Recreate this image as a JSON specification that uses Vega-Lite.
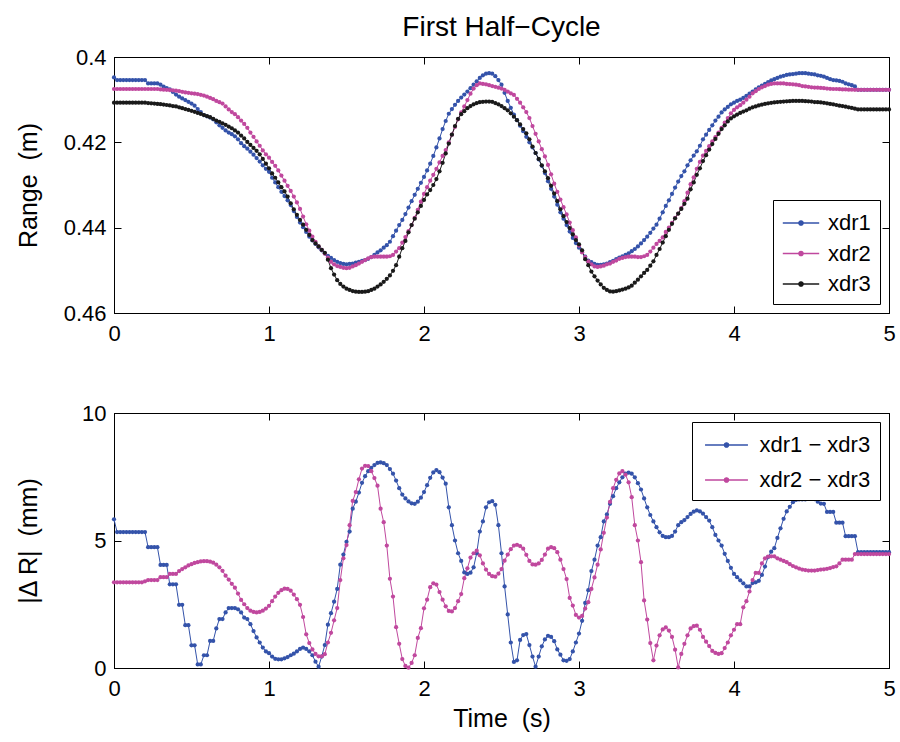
{
"$schema":"https://vega.github.io/schema/vega-lite/v6.json",
"padding":{"left":15,"top":13,"right":10,"bottom":0},
"background":"white",
"config":{
 "font":"Liberation Sans",
 "view":{"stroke":"#000","strokeWidth":1},
 "axis":{"grid":false,"domainColor":"#000","tickColor":"#000","labelColor":"#000","titleColor":"#000","labelFontSize":22,"titleFontSize":25,"titleFontWeight":"normal","tickSize":-7,"labelPadding":15,"domainWidth":1,"tickWidth":1,"labelFlush":false,"labelOverlap":false},
 "legend":{"title":null,"strokeColor":"#000","fillColor":"#fff","labelFontSize":22,"labelColor":"#000","padding":9,"cornerRadius":0,"symbolStrokeWidth":1.3,"symbolSize":676},
 "title":{"fontSize":28,"fontWeight":"normal","color":"#000","anchor":"middle"},
 "concat":{"spacing":56}
},
"datasets":{"d":[
{"t":0,"xdr1":0.4048,"xdr2":0.4075,"xdr3":0.4107,"d13":5.83,"d23":3.36},
{"t":0.02,"xdr1":0.4054,"xdr2":0.4075,"xdr3":0.4107,"d13":5.33,"d23":3.36},
{"t":0.04,"xdr1":0.4054,"xdr2":0.4075,"xdr3":0.4107,"d13":5.33,"d23":3.36},
{"t":0.06,"xdr1":0.4054,"xdr2":0.4075,"xdr3":0.4107,"d13":5.33,"d23":3.36},
{"t":0.08,"xdr1":0.4054,"xdr2":0.4075,"xdr3":0.4107,"d13":5.33,"d23":3.36},
{"t":0.1,"xdr1":0.4054,"xdr2":0.4075,"xdr3":0.4107,"d13":5.33,"d23":3.36},
{"t":0.12,"xdr1":0.4054,"xdr2":0.4075,"xdr3":0.4107,"d13":5.33,"d23":3.36},
{"t":0.14,"xdr1":0.4054,"xdr2":0.4075,"xdr3":0.4107,"d13":5.33,"d23":3.36},
{"t":0.16,"xdr1":0.4054,"xdr2":0.4075,"xdr3":0.4107,"d13":5.33,"d23":3.36},
{"t":0.18,"xdr1":0.4054,"xdr2":0.4075,"xdr3":0.4107,"d13":5.33,"d23":3.36},
{"t":0.2,"xdr1":0.4054,"xdr2":0.4075,"xdr3":0.4107,"d13":5.33,"d23":3.4},
{"t":0.22,"xdr1":0.4062,"xdr2":0.4075,"xdr3":0.4108,"d13":4.74,"d23":3.45},
{"t":0.24,"xdr1":0.4062,"xdr2":0.4075,"xdr3":0.41085,"d13":4.74,"d23":3.45},
{"t":0.26,"xdr1":0.4062,"xdr2":0.4075,"xdr3":0.4109,"d13":4.74,"d23":3.45},
{"t":0.28,"xdr1":0.4062,"xdr2":0.4075,"xdr3":0.411,"d13":4.74,"d23":3.45},
{"t":0.3,"xdr1":0.4065,"xdr2":0.4076,"xdr3":0.41105,"d13":4.04,"d23":3.56},
{"t":0.32,"xdr1":0.40695,"xdr2":0.40765,"xdr3":0.41115,"d13":4.04,"d23":3.56},
{"t":0.34,"xdr1":0.4073,"xdr2":0.4077,"xdr3":0.41125,"d13":4.04,"d23":3.56},
{"t":0.36,"xdr1":0.4076,"xdr2":0.40775,"xdr3":0.41135,"d13":3.28,"d23":3.69},
{"t":0.38,"xdr1":0.4082,"xdr2":0.4078,"xdr3":0.4115,"d13":3.28,"d23":3.69},
{"t":0.4,"xdr1":0.4088,"xdr2":0.4079,"xdr3":0.4116,"d13":3.28,"d23":3.69},
{"t":0.42,"xdr1":0.4093,"xdr2":0.408,"xdr3":0.4118,"d13":2.48,"d23":3.8},
{"t":0.44,"xdr1":0.4097,"xdr2":0.40815,"xdr3":0.412,"d13":2.48,"d23":3.88},
{"t":0.46,"xdr1":0.4101,"xdr2":0.4083,"xdr3":0.4122,"d13":1.68,"d23":3.95},
{"t":0.48,"xdr1":0.4105,"xdr2":0.4084,"xdr3":0.4124,"d13":1.68,"d23":4.02},
{"t":0.5,"xdr1":0.4109,"xdr2":0.4085,"xdr3":0.4126,"d13":0.89,"d23":4.07},
{"t":0.52,"xdr1":0.4114,"xdr2":0.4086,"xdr3":0.41285,"d13":0.89,"d23":4.12},
{"t":0.54,"xdr1":0.4122,"xdr2":0.4087,"xdr3":0.4131,"d13":0.14,"d23":4.15},
{"t":0.56,"xdr1":0.4129,"xdr2":0.40885,"xdr3":0.41335,"d13":0.14,"d23":4.18},
{"t":0.58,"xdr1":0.4136,"xdr2":0.40905,"xdr3":0.4136,"d13":0.5,"d23":4.19},
{"t":0.6,"xdr1":0.4139,"xdr2":0.4093,"xdr3":0.41385,"d13":0.5,"d23":4.19},
{"t":0.62,"xdr1":0.4142,"xdr2":0.4096,"xdr3":0.4141,"d13":1.06,"d23":4.17},
{"t":0.64,"xdr1":0.4146,"xdr2":0.4099,"xdr3":0.4145,"d13":1.06,"d23":4.13},
{"t":0.66,"xdr1":0.4153,"xdr2":0.4103,"xdr3":0.4149,"d13":1.55,"d23":4.05},
{"t":0.68,"xdr1":0.416,"xdr2":0.4106,"xdr3":0.4152,"d13":1.92,"d23":3.95},
{"t":0.7,"xdr1":0.4166,"xdr2":0.4109,"xdr3":0.41555,"d13":1.92,"d23":3.81},
{"t":0.72,"xdr1":0.4172,"xdr2":0.4116,"xdr3":0.4159,"d13":2.18,"d23":3.62},
{"t":0.74,"xdr1":0.4177,"xdr2":0.4123,"xdr3":0.4163,"d13":2.35,"d23":3.47},
{"t":0.76,"xdr1":0.4181,"xdr2":0.4129,"xdr3":0.4167,"d13":2.35,"d23":3.3},
{"t":0.78,"xdr1":0.4186,"xdr2":0.4134,"xdr3":0.4172,"d13":2.35,"d23":3.15},
{"t":0.8,"xdr1":0.4193,"xdr2":0.4141,"xdr3":0.4177,"d13":2.3,"d23":2.92},
{"t":0.82,"xdr1":0.4202,"xdr2":0.4149,"xdr3":0.4184,"d13":2.18,"d23":2.67},
{"t":0.84,"xdr1":0.4209,"xdr2":0.4157,"xdr3":0.4191,"d13":1.98,"d23":2.5},
{"t":0.86,"xdr1":0.4215,"xdr2":0.4166,"xdr3":0.4199,"d13":1.92,"d23":2.35},
{"t":0.88,"xdr1":0.4222,"xdr2":0.4177,"xdr3":0.4206,"d13":1.72,"d23":2.25},
{"t":0.9,"xdr1":0.4229,"xdr2":0.4187,"xdr3":0.4213,"d13":1.45,"d23":2.2},
{"t":0.92,"xdr1":0.4237,"xdr2":0.4198,"xdr3":0.422,"d13":1.2,"d23":2.18},
{"t":0.94,"xdr1":0.4245,"xdr2":0.4208,"xdr3":0.4228,"d13":1.0,"d23":2.2},
{"t":0.96,"xdr1":0.4254,"xdr2":0.4219,"xdr3":0.4239,"d13":0.8,"d23":2.25},
{"t":0.98,"xdr1":0.4262,"xdr2":0.4228,"xdr3":0.425,"d13":0.65,"d23":2.33},
{"t":1.0,"xdr1":0.4269,"xdr2":0.4236,"xdr3":0.4261,"d13":0.58,"d23":2.44},
{"t":1.02,"xdr1":0.4283,"xdr2":0.4246,"xdr3":0.4273,"d13":0.45,"d23":2.62},
{"t":1.04,"xdr1":0.4294,"xdr2":0.4255,"xdr3":0.4283,"d13":0.36,"d23":2.8},
{"t":1.06,"xdr1":0.4305,"xdr2":0.4266,"xdr3":0.4294,"d13":0.34,"d23":2.95},
{"t":1.08,"xdr1":0.4316,"xdr2":0.4278,"xdr3":0.4305,"d13":0.34,"d23":3.05},
{"t":1.1,"xdr1":0.4326,"xdr2":0.429,"xdr3":0.4315,"d13":0.38,"d23":3.11},
{"t":1.12,"xdr1":0.4336,"xdr2":0.4302,"xdr3":0.4327,"d13":0.43,"d23":3.1},
{"t":1.14,"xdr1":0.4347,"xdr2":0.4314,"xdr3":0.4343,"d13":0.5,"d23":3.03},
{"t":1.16,"xdr1":0.4361,"xdr2":0.4327,"xdr3":0.4357,"d13":0.56,"d23":2.88},
{"t":1.18,"xdr1":0.4375,"xdr2":0.4341,"xdr3":0.437,"d13":0.65,"d23":2.7},
{"t":1.2,"xdr1":0.4388,"xdr2":0.4356,"xdr3":0.4382,"d13":0.75,"d23":2.48},
{"t":1.22,"xdr1":0.4399,"xdr2":0.4374,"xdr3":0.4393,"d13":0.8,"d23":2.0},
{"t":1.24,"xdr1":0.441,"xdr2":0.4392,"xdr3":0.4405,"d13":0.75,"d23":1.32},
{"t":1.26,"xdr1":0.4421,"xdr2":0.4407,"xdr3":0.4417,"d13":0.65,"d23":0.98},
{"t":1.28,"xdr1":0.443,"xdr2":0.4421,"xdr3":0.4429,"d13":0.5,"d23":0.73},
{"t":1.3,"xdr1":0.4438,"xdr2":0.4433,"xdr3":0.4437,"d13":0.25,"d23":0.55},
{"t":1.32,"xdr1":0.4446,"xdr2":0.4444,"xdr3":0.4444,"d13":0.05,"d23":0.46},
{"t":1.34,"xdr1":0.4453,"xdr2":0.4452,"xdr3":0.4452,"d13":0.45,"d23":0.46},
{"t":1.36,"xdr1":0.446,"xdr2":0.4461,"xdr3":0.4459,"d13":0.9,"d23":0.54},
{"t":1.38,"xdr1":0.4466,"xdr2":0.447,"xdr3":0.4475,"d13":1.7,"d23":1.0},
{"t":1.4,"xdr1":0.4471,"xdr2":0.448,"xdr3":0.4495,"d13":2.15,"d23":1.38},
{"t":1.42,"xdr1":0.4476,"xdr2":0.4486,"xdr3":0.451,"d13":2.6,"d23":1.87},
{"t":1.44,"xdr1":0.448,"xdr2":0.449,"xdr3":0.4523,"d13":3.1,"d23":2.35},
{"t":1.46,"xdr1":0.4483,"xdr2":0.4492,"xdr3":0.4532,"d13":4.05,"d23":3.45},
{"t":1.48,"xdr1":0.4485,"xdr2":0.4494,"xdr3":0.4538,"d13":4.45,"d23":4.3},
{"t":1.5,"xdr1":0.4486,"xdr2":0.4495,"xdr3":0.4543,"d13":4.95,"d23":4.82},
{"t":1.52,"xdr1":0.4485,"xdr2":0.4494,"xdr3":0.4546,"d13":5.35,"d23":5.6},
{"t":1.54,"xdr1":0.4484,"xdr2":0.4491,"xdr3":0.45485,"d13":6.25,"d23":6.55},
{"t":1.56,"xdr1":0.4482,"xdr2":0.4488,"xdr3":0.455,"d13":6.52,"d23":6.9},
{"t":1.58,"xdr1":0.448,"xdr2":0.4484,"xdr3":0.45505,"d13":6.88,"d23":7.4},
{"t":1.6,"xdr1":0.4478,"xdr2":0.448,"xdr3":0.45505,"d13":7.26,"d23":7.82},
{"t":1.62,"xdr1":0.4476,"xdr2":0.4476,"xdr3":0.455,"d13":7.52,"d23":7.93},
{"t":1.64,"xdr1":0.4473,"xdr2":0.4472,"xdr3":0.4549,"d13":7.72,"d23":7.92},
{"t":1.66,"xdr1":0.4469,"xdr2":0.4469,"xdr3":0.4546,"d13":7.85,"d23":7.72},
{"t":1.68,"xdr1":0.4464,"xdr2":0.4468,"xdr3":0.4543,"d13":7.96,"d23":7.45},
{"t":1.7,"xdr1":0.4458,"xdr2":0.4468,"xdr3":0.4538,"d13":8.04,"d23":7.15},
{"t":1.72,"xdr1":0.4453,"xdr2":0.4468,"xdr3":0.4533,"d13":8.06,"d23":6.25},
{"t":1.74,"xdr1":0.4447,"xdr2":0.4468,"xdr3":0.4527,"d13":8.03,"d23":5.72},
{"t":1.76,"xdr1":0.4441,"xdr2":0.4468,"xdr3":0.452,"d13":7.96,"d23":4.8},
{"t":1.78,"xdr1":0.4433,"xdr2":0.4467,"xdr3":0.4512,"d13":7.8,"d23":3.5},
{"t":1.8,"xdr1":0.442,"xdr2":0.4464,"xdr3":0.4501,"d13":7.62,"d23":2.8},
{"t":1.82,"xdr1":0.4407,"xdr2":0.4456,"xdr3":0.4488,"d13":7.35,"d23":1.6},
{"t":1.84,"xdr1":0.4394,"xdr2":0.4448,"xdr3":0.4468,"d13":7.05,"d23":0.95},
{"t":1.86,"xdr1":0.4382,"xdr2":0.4435,"xdr3":0.4448,"d13":6.8,"d23":0.35},
{"t":1.88,"xdr1":0.4368,"xdr2":0.4422,"xdr3":0.4431,"d13":6.65,"d23":0.08},
{"t":1.9,"xdr1":0.4353,"xdr2":0.4408,"xdr3":0.4411,"d13":6.53,"d23":0.01},
{"t":1.92,"xdr1":0.4338,"xdr2":0.4394,"xdr3":0.4394,"d13":6.46,"d23":0.2},
{"t":1.94,"xdr1":0.4323,"xdr2":0.4377,"xdr3":0.4379,"d13":6.44,"d23":0.5},
{"t":1.96,"xdr1":0.4309,"xdr2":0.4358,"xdr3":0.4364,"d13":6.52,"d23":1.18},
{"t":1.98,"xdr1":0.4295,"xdr2":0.4339,"xdr3":0.4349,"d13":6.68,"d23":1.56},
{"t":2.0,"xdr1":0.4281,"xdr2":0.4321,"xdr3":0.4335,"d13":6.9,"d23":2.34},
{"t":2.02,"xdr1":0.4266,"xdr2":0.4305,"xdr3":0.4322,"d13":7.17,"d23":2.68},
{"t":2.04,"xdr1":0.425,"xdr2":0.429,"xdr3":0.4312,"d13":7.46,"d23":3.17},
{"t":2.06,"xdr1":0.4232,"xdr2":0.4276,"xdr3":0.43,"d13":7.67,"d23":3.32},
{"t":2.08,"xdr1":0.4212,"xdr2":0.4262,"xdr3":0.4286,"d13":7.76,"d23":3.27},
{"t":2.1,"xdr1":0.4191,"xdr2":0.4247,"xdr3":0.4268,"d13":7.68,"d23":2.98},
{"t":2.12,"xdr1":0.4169,"xdr2":0.4232,"xdr3":0.4248,"d13":7.47,"d23":2.68},
{"t":2.14,"xdr1":0.415,"xdr2":0.4218,"xdr3":0.4226,"d13":7.23,"d23":2.42},
{"t":2.16,"xdr1":0.4133,"xdr2":0.42,"xdr3":0.4203,"d13":6.3,"d23":2.24},
{"t":2.18,"xdr1":0.4122,"xdr2":0.4182,"xdr3":0.4182,"d13":5.6,"d23":2.22},
{"t":2.2,"xdr1":0.4112,"xdr2":0.4164,"xdr3":0.4162,"d13":5.0,"d23":2.35},
{"t":2.22,"xdr1":0.4103,"xdr2":0.4146,"xdr3":0.4145,"d13":4.5,"d23":2.62},
{"t":2.24,"xdr1":0.4095,"xdr2":0.413,"xdr3":0.4134,"d13":4.2,"d23":2.9},
{"t":2.26,"xdr1":0.4088,"xdr2":0.4116,"xdr3":0.4127,"d13":3.75,"d23":3.52},
{"t":2.28,"xdr1":0.4081,"xdr2":0.4101,"xdr3":0.412,"d13":3.69,"d23":3.91},
{"t":2.3,"xdr1":0.4073,"xdr2":0.4086,"xdr3":0.4115,"d13":3.74,"d23":4.33},
{"t":2.32,"xdr1":0.4065,"xdr2":0.4074,"xdr3":0.4111,"d13":3.95,"d23":4.5},
{"t":2.34,"xdr1":0.4057,"xdr2":0.4066,"xdr3":0.4108,"d13":4.5,"d23":4.6},
{"t":2.36,"xdr1":0.4049,"xdr2":0.4062,"xdr3":0.4106,"d13":5.35,"d23":4.42},
{"t":2.38,"xdr1":0.4043,"xdr2":0.4063,"xdr3":0.4105,"d13":5.75,"d23":4.1},
{"t":2.4,"xdr1":0.4039,"xdr2":0.4064,"xdr3":0.41045,"d13":6.3,"d23":3.86},
{"t":2.42,"xdr1":0.4038,"xdr2":0.4066,"xdr3":0.41045,"d13":6.5,"d23":3.69},
{"t":2.44,"xdr1":0.4039,"xdr2":0.4068,"xdr3":0.4105,"d13":6.54,"d23":3.6},
{"t":2.46,"xdr1":0.4045,"xdr2":0.407,"xdr3":0.4108,"d13":6.4,"d23":3.58},
{"t":2.48,"xdr1":0.4054,"xdr2":0.4072,"xdr3":0.4111,"d13":5.6,"d23":3.7},
{"t":2.5,"xdr1":0.4065,"xdr2":0.4074,"xdr3":0.4115,"d13":4.5,"d23":3.88},
{"t":2.52,"xdr1":0.4084,"xdr2":0.4077,"xdr3":0.412,"d13":3.2,"d23":4.21},
{"t":2.54,"xdr1":0.4103,"xdr2":0.4081,"xdr3":0.4125,"d13":2.1,"d23":4.45},
{"t":2.56,"xdr1":0.4119,"xdr2":0.4085,"xdr3":0.4132,"d13":1.0,"d23":4.66},
{"t":2.58,"xdr1":0.4135,"xdr2":0.4089,"xdr3":0.414,"d13":0.24,"d23":4.8},
{"t":2.6,"xdr1":0.4148,"xdr2":0.4098,"xdr3":0.4148,"d13":0.3,"d23":4.83},
{"t":2.62,"xdr1":0.4161,"xdr2":0.4107,"xdr3":0.4158,"d13":1.1,"d23":4.78},
{"t":2.64,"xdr1":0.4174,"xdr2":0.4118,"xdr3":0.4169,"d13":1.29,"d23":4.68},
{"t":2.66,"xdr1":0.4187,"xdr2":0.4129,"xdr3":0.4179,"d13":1.33,"d23":4.44},
{"t":2.68,"xdr1":0.42,"xdr2":0.4143,"xdr3":0.4193,"d13":0.9,"d23":4.2},
{"t":2.7,"xdr1":0.4212,"xdr2":0.4162,"xdr3":0.421,"d13":0.45,"d23":4.06},
{"t":2.72,"xdr1":0.4225,"xdr2":0.418,"xdr3":0.4225,"d13":0.05,"d23":4.05},
{"t":2.74,"xdr1":0.424,"xdr2":0.4198,"xdr3":0.4239,"d13":0.45,"d23":4.1},
{"t":2.76,"xdr1":0.4255,"xdr2":0.4216,"xdr3":0.4254,"d13":0.85,"d23":4.24},
{"t":2.78,"xdr1":0.4272,"xdr2":0.4233,"xdr3":0.4268,"d13":1.12,"d23":4.45},
{"t":2.8,"xdr1":0.4291,"xdr2":0.4253,"xdr3":0.4284,"d13":1.26,"d23":4.68},
{"t":2.82,"xdr1":0.4309,"xdr2":0.4275,"xdr3":0.4302,"d13":1.22,"d23":4.74},
{"t":2.84,"xdr1":0.4327,"xdr2":0.4297,"xdr3":0.432,"d13":1.05,"d23":4.7},
{"t":2.86,"xdr1":0.4346,"xdr2":0.4316,"xdr3":0.4338,"d13":0.73,"d23":4.54},
{"t":2.88,"xdr1":0.4364,"xdr2":0.4334,"xdr3":0.4357,"d13":0.52,"d23":4.25},
{"t":2.9,"xdr1":0.4379,"xdr2":0.4352,"xdr3":0.4373,"d13":0.3,"d23":3.88},
{"t":2.92,"xdr1":0.4394,"xdr2":0.4369,"xdr3":0.4387,"d13":0.28,"d23":3.49},
{"t":2.94,"xdr1":0.4409,"xdr2":0.4388,"xdr3":0.4401,"d13":0.35,"d23":2.75},
{"t":2.96,"xdr1":0.4424,"xdr2":0.4406,"xdr3":0.4416,"d13":0.65,"d23":2.45},
{"t":2.98,"xdr1":0.4436,"xdr2":0.4423,"xdr3":0.4429,"d13":1.0,"d23":2.08},
{"t":3.0,"xdr1":0.4447,"xdr2":0.4442,"xdr3":0.4439,"d13":1.35,"d23":1.98},
{"t":3.02,"xdr1":0.4457,"xdr2":0.4458,"xdr3":0.4453,"d13":1.85,"d23":2.04},
{"t":3.04,"xdr1":0.4468,"xdr2":0.4469,"xdr3":0.4474,"d13":2.55,"d23":2.33},
{"t":3.06,"xdr1":0.4477,"xdr2":0.4479,"xdr3":0.4488,"d13":3.05,"d23":2.58},
{"t":3.08,"xdr1":0.4481,"xdr2":0.4486,"xdr3":0.4503,"d13":3.8,"d23":3.1},
{"t":3.1,"xdr1":0.4485,"xdr2":0.4491,"xdr3":0.4514,"d13":4.25,"d23":3.55},
{"t":3.12,"xdr1":0.4487,"xdr2":0.4492,"xdr3":0.4524,"d13":4.8,"d23":4.05},
{"t":3.14,"xdr1":0.4487,"xdr2":0.4491,"xdr3":0.4533,"d13":5.13,"d23":4.65},
{"t":3.16,"xdr1":0.4486,"xdr2":0.4489,"xdr3":0.4541,"d13":5.75,"d23":5.3},
{"t":3.18,"xdr1":0.4484,"xdr2":0.4486,"xdr3":0.4546,"d13":6.02,"d23":5.9},
{"t":3.2,"xdr1":0.4481,"xdr2":0.4484,"xdr3":0.45495,"d13":6.44,"d23":6.51},
{"t":3.22,"xdr1":0.4478,"xdr2":0.448,"xdr3":0.455,"d13":6.74,"d23":7.05},
{"t":3.24,"xdr1":0.4474,"xdr2":0.4477,"xdr3":0.4549,"d13":7.05,"d23":7.38},
{"t":3.26,"xdr1":0.447,"xdr2":0.4473,"xdr3":0.4547,"d13":7.28,"d23":7.63},
{"t":3.28,"xdr1":0.4467,"xdr2":0.4471,"xdr3":0.4545,"d13":7.48,"d23":7.72},
{"t":3.3,"xdr1":0.4464,"xdr2":0.4469,"xdr3":0.4543,"d13":7.62,"d23":7.58},
{"t":3.32,"xdr1":0.446,"xdr2":0.4468,"xdr3":0.454,"d13":7.66,"d23":7.28},
{"t":3.34,"xdr1":0.4455,"xdr2":0.4468,"xdr3":0.4536,"d13":7.62,"d23":6.7},
{"t":3.36,"xdr1":0.445,"xdr2":0.4468,"xdr3":0.4529,"d13":7.48,"d23":5.6},
{"t":3.38,"xdr1":0.4444,"xdr2":0.4469,"xdr3":0.4522,"d13":7.25,"d23":5.0},
{"t":3.4,"xdr1":0.4437,"xdr2":0.4469,"xdr3":0.4514,"d13":7.0,"d23":4.15},
{"t":3.42,"xdr1":0.4429,"xdr2":0.4467,"xdr3":0.4506,"d13":6.65,"d23":2.65},
{"t":3.44,"xdr1":0.4421,"xdr2":0.4464,"xdr3":0.4499,"d13":6.3,"d23":1.9},
{"t":3.46,"xdr1":0.4412,"xdr2":0.4456,"xdr3":0.4489,"d13":6.0,"d23":0.98},
{"t":3.48,"xdr1":0.4402,"xdr2":0.4447,"xdr3":0.4479,"d13":5.75,"d23":0.3},
{"t":3.5,"xdr1":0.4393,"xdr2":0.4438,"xdr3":0.4464,"d13":5.52,"d23":0.88},
{"t":3.52,"xdr1":0.4379,"xdr2":0.4431,"xdr3":0.445,"d13":5.32,"d23":1.28},
{"t":3.54,"xdr1":0.4364,"xdr2":0.4423,"xdr3":0.4435,"d13":5.18,"d23":1.51},
{"t":3.56,"xdr1":0.4349,"xdr2":0.441,"xdr3":0.442,"d13":5.13,"d23":1.59},
{"t":3.58,"xdr1":0.4336,"xdr2":0.44,"xdr3":0.4405,"d13":5.13,"d23":1.47},
{"t":3.6,"xdr1":0.4321,"xdr2":0.4389,"xdr3":0.4391,"d13":5.18,"d23":1.22},
{"t":3.62,"xdr1":0.4306,"xdr2":0.4377,"xdr3":0.4378,"d13":5.35,"d23":0.72},
{"t":3.64,"xdr1":0.4292,"xdr2":0.4367,"xdr3":0.4367,"d13":5.6,"d23":0.02},
{"t":3.66,"xdr1":0.4279,"xdr2":0.4354,"xdr3":0.4356,"d13":5.72,"d23":0.55},
{"t":3.68,"xdr1":0.4268,"xdr2":0.4338,"xdr3":0.4344,"d13":5.8,"d23":0.95},
{"t":3.7,"xdr1":0.4254,"xdr2":0.4318,"xdr3":0.4332,"d13":5.92,"d23":1.28},
{"t":3.72,"xdr1":0.4242,"xdr2":0.4298,"xdr3":0.431,"d13":6.04,"d23":1.55},
{"t":3.74,"xdr1":0.4231,"xdr2":0.4282,"xdr3":0.4294,"d13":6.13,"d23":1.64},
{"t":3.76,"xdr1":0.4221,"xdr2":0.4262,"xdr3":0.4276,"d13":6.18,"d23":1.66},
{"t":3.78,"xdr1":0.4208,"xdr2":0.4246,"xdr3":0.4261,"d13":6.14,"d23":1.5},
{"t":3.8,"xdr1":0.4193,"xdr2":0.4231,"xdr3":0.4244,"d13":6.05,"d23":1.22},
{"t":3.82,"xdr1":0.4182,"xdr2":0.422,"xdr3":0.423,"d13":5.92,"d23":1.03},
{"t":3.84,"xdr1":0.4171,"xdr2":0.4209,"xdr3":0.4217,"d13":5.78,"d23":0.86},
{"t":3.86,"xdr1":0.416,"xdr2":0.4198,"xdr3":0.4204,"d13":5.52,"d23":0.67},
{"t":3.88,"xdr1":0.4149,"xdr2":0.4188,"xdr3":0.4192,"d13":5.22,"d23":0.59},
{"t":3.9,"xdr1":0.414,"xdr2":0.4177,"xdr3":0.418,"d13":5.0,"d23":0.55},
{"t":3.92,"xdr1":0.413,"xdr2":0.4166,"xdr3":0.4169,"d13":4.8,"d23":0.58},
{"t":3.94,"xdr1":0.4123,"xdr2":0.4154,"xdr3":0.416,"d13":4.48,"d23":0.78},
{"t":3.96,"xdr1":0.4117,"xdr2":0.4143,"xdr3":0.4151,"d13":4.2,"d23":1.0},
{"t":3.98,"xdr1":0.4111,"xdr2":0.4132,"xdr3":0.4144,"d13":3.93,"d23":1.28},
{"t":4.0,"xdr1":0.4107,"xdr2":0.4124,"xdr3":0.4139,"d13":3.69,"d23":1.5},
{"t":4.02,"xdr1":0.4103,"xdr2":0.4118,"xdr3":0.4135,"d13":3.56,"d23":1.72},
{"t":4.04,"xdr1":0.41,"xdr2":0.4113,"xdr3":0.4131,"d13":3.44,"d23":1.72},
{"t":4.06,"xdr1":0.4096,"xdr2":0.4107,"xdr3":0.4128,"d13":3.32,"d23":2.38},
{"t":4.08,"xdr1":0.4091,"xdr2":0.41,"xdr3":0.4125,"d13":3.2,"d23":2.62},
{"t":4.1,"xdr1":0.4086,"xdr2":0.4093,"xdr3":0.4121,"d13":3.2,"d23":3.0},
{"t":4.12,"xdr1":0.4081,"xdr2":0.4085,"xdr3":0.4118,"d13":3.33,"d23":3.45},
{"t":4.14,"xdr1":0.4076,"xdr2":0.408,"xdr3":0.4116,"d13":3.36,"d23":3.73},
{"t":4.16,"xdr1":0.4071,"xdr2":0.4075,"xdr3":0.41135,"d13":3.42,"d23":3.73},
{"t":4.18,"xdr1":0.4067,"xdr2":0.4071,"xdr3":0.41115,"d13":3.65,"d23":4.1},
{"t":4.2,"xdr1":0.4063,"xdr2":0.4068,"xdr3":0.411,"d13":3.98,"d23":4.3},
{"t":4.22,"xdr1":0.4059,"xdr2":0.4065,"xdr3":0.41085,"d13":4.35,"d23":4.37},
{"t":4.24,"xdr1":0.4055,"xdr2":0.4063,"xdr3":0.41075,"d13":4.56,"d23":4.38},
{"t":4.26,"xdr1":0.4052,"xdr2":0.4062,"xdr3":0.41065,"d13":4.7,"d23":4.38},
{"t":4.28,"xdr1":0.4049,"xdr2":0.4062,"xdr3":0.41055,"d13":5.1,"d23":4.3},
{"t":4.3,"xdr1":0.4046,"xdr2":0.4062,"xdr3":0.4105,"d13":5.48,"d23":4.25},
{"t":4.32,"xdr1":0.4044,"xdr2":0.4062,"xdr3":0.41045,"d13":5.85,"d23":4.2},
{"t":4.34,"xdr1":0.4042,"xdr2":0.4063,"xdr3":0.4104,"d13":6.14,"d23":4.15},
{"t":4.36,"xdr1":0.4041,"xdr2":0.40635,"xdr3":0.41035,"d13":6.32,"d23":4.07},
{"t":4.38,"xdr1":0.404,"xdr2":0.4064,"xdr3":0.4103,"d13":6.5,"d23":4.0},
{"t":4.4,"xdr1":0.4039,"xdr2":0.4065,"xdr3":0.4103,"d13":6.59,"d23":3.95},
{"t":4.42,"xdr1":0.4038,"xdr2":0.4066,"xdr3":0.4103,"d13":6.61,"d23":3.9},
{"t":4.44,"xdr1":0.4038,"xdr2":0.4068,"xdr3":0.4103,"d13":6.61,"d23":3.86},
{"t":4.46,"xdr1":0.4038,"xdr2":0.4069,"xdr3":0.41035,"d13":6.61,"d23":3.84},
{"t":4.48,"xdr1":0.4039,"xdr2":0.407,"xdr3":0.4104,"d13":6.63,"d23":3.82},
{"t":4.5,"xdr1":0.404,"xdr2":0.4071,"xdr3":0.41045,"d13":6.64,"d23":3.82},
{"t":4.52,"xdr1":0.4041,"xdr2":0.40715,"xdr3":0.41055,"d13":6.62,"d23":3.82},
{"t":4.54,"xdr1":0.4043,"xdr2":0.4072,"xdr3":0.4106,"d13":6.52,"d23":3.84},
{"t":4.56,"xdr1":0.4044,"xdr2":0.40725,"xdr3":0.41065,"d13":6.45,"d23":3.86},
{"t":4.58,"xdr1":0.4046,"xdr2":0.4073,"xdr3":0.41075,"d13":6.44,"d23":3.87},
{"t":4.6,"xdr1":0.4049,"xdr2":0.4074,"xdr3":0.41085,"d13":6.12,"d23":3.89},
{"t":4.62,"xdr1":0.4052,"xdr2":0.40745,"xdr3":0.411,"d13":6.12,"d23":3.92},
{"t":4.64,"xdr1":0.4054,"xdr2":0.4075,"xdr3":0.4111,"d13":6.12,"d23":3.96},
{"t":4.66,"xdr1":0.4055,"xdr2":0.4075,"xdr3":0.41125,"d13":5.7,"d23":3.99},
{"t":4.68,"xdr1":0.4056,"xdr2":0.40755,"xdr3":0.4114,"d13":5.7,"d23":4.1},
{"t":4.7,"xdr1":0.4058,"xdr2":0.4076,"xdr3":0.4115,"d13":5.7,"d23":4.25},
{"t":4.72,"xdr1":0.4062,"xdr2":0.4076,"xdr3":0.41165,"d13":5.17,"d23":4.25},
{"t":4.74,"xdr1":0.4064,"xdr2":0.40765,"xdr3":0.4118,"d13":5.17,"d23":4.25},
{"t":4.76,"xdr1":0.4066,"xdr2":0.40765,"xdr3":0.41195,"d13":5.17,"d23":4.25},
{"t":4.78,"xdr1":0.4069,"xdr2":0.4077,"xdr3":0.4121,"d13":5.17,"d23":4.47},
{"t":4.8,"xdr1":0.4077,"xdr2":0.4077,"xdr3":0.4123,"d13":4.54,"d23":4.47},
{"t":4.82,"xdr1":0.4077,"xdr2":0.4077,"xdr3":0.4123,"d13":4.54,"d23":4.47},
{"t":4.84,"xdr1":0.4077,"xdr2":0.4077,"xdr3":0.4123,"d13":4.54,"d23":4.47},
{"t":4.86,"xdr1":0.4077,"xdr2":0.4077,"xdr3":0.4123,"d13":4.54,"d23":4.47},
{"t":4.88,"xdr1":0.4077,"xdr2":0.4077,"xdr3":0.4123,"d13":4.54,"d23":4.47},
{"t":4.9,"xdr1":0.4077,"xdr2":0.4077,"xdr3":0.4123,"d13":4.54,"d23":4.47},
{"t":4.92,"xdr1":0.4077,"xdr2":0.4077,"xdr3":0.4123,"d13":4.54,"d23":4.47},
{"t":4.94,"xdr1":0.4077,"xdr2":0.4077,"xdr3":0.4123,"d13":4.54,"d23":4.47},
{"t":4.96,"xdr1":0.4077,"xdr2":0.4077,"xdr3":0.4123,"d13":4.54,"d23":4.47},
{"t":4.98,"xdr1":0.4077,"xdr2":0.4077,"xdr3":0.4123,"d13":4.54,"d23":4.47},
{"t":5.0,"xdr1":0.4077,"xdr2":0.4077,"xdr3":0.4123,"d13":4.54,"d23":4.47}
]},
"vconcat":[
 {
  "title":{"text":"First Half−Cycle","offset":4},
  "width":775,"height":256,
  "data":{"name":"d"},
  "transform":[{"fold":["xdr1","xdr2","xdr3"],"as":["series","range"]}],
  "layer":[
   {"mark":{"type":"line","strokeWidth":1},
    "encoding":{
     "x":{"field":"t","type":"quantitative","scale":{"domain":[0,5],"nice":false},"axis":{"orient":"bottom","values":[0,1,2,3,4,5],"format":"d","title":null,"labelPadding":17}},
     "y":{"field":"range","type":"quantitative","scale":{"domain":[0.4,0.46],"reverse":true,"nice":false,"zero":false},"axis":{"orient":"left","values":[0.4,0.42,0.44,0.46],"format":".2~f","title":"Range\u00a0 (m)","titleX":-73}},
     "color":{"field":"series","type":"nominal","scale":{"domain":["xdr1","xdr2","xdr3"],"range":["#3453AA","#C0489E","#1A1A1A"]},"legend":{"orient":"bottom-right","offset":9,"symbolType":"M-1.4,0L1.4,0M-0.17,0A0.17,0.17,0,1,0,0.17,0A0.17,0.17,0,1,0,-0.17,0","symbolOffset":5,"labelOffset":13,"rowPadding":5.5}}
    }},
   {"mark":{"type":"circle","size":18,"opacity":1},
    "encoding":{
     "x":{"field":"t","type":"quantitative","scale":{"domain":[0,5],"nice":false},"axis":{"orient":"top","values":[0,1,2,3,4,5],"labels":false,"title":null}},
     "y":{"field":"range","type":"quantitative","scale":{"domain":[0.4,0.46],"reverse":true,"nice":false,"zero":false},"axis":{"orient":"right","values":[0.4,0.42,0.44,0.46],"labels":false,"title":null}},
     "color":{"field":"series","type":"nominal","scale":{"domain":["xdr1","xdr2","xdr3"],"range":["#3453AA","#C0489E","#1A1A1A"]},"legend":{"orient":"bottom-right","offset":9,"symbolType":"M-1.4,0L1.4,0M-0.17,0A0.17,0.17,0,1,0,0.17,0A0.17,0.17,0,1,0,-0.17,0","symbolOffset":5,"labelOffset":13,"rowPadding":5.5}},
     "order":{"field":"series"}
    }}
  ],
  "resolve":{"axis":{"x":"independent","y":"independent"}}
 },
 {
  "width":775,"height":255,
  "data":{"name":"d"},
  "transform":[{"fold":["d13","d23"],"as":["series","dr"]}],
  "layer":[
   {"mark":{"type":"line","strokeWidth":1},
    "encoding":{
     "x":{"field":"t","type":"quantitative","scale":{"domain":[0,5],"nice":false},"axis":{"orient":"bottom","values":[0,1,2,3,4,5],"format":"d","title":"Time\u00a0 (s)","titlePadding":7,"labelPadding":17}},
     "y":{"field":"dr","type":"quantitative","scale":{"domain":[0,10],"nice":false},"axis":{"orient":"left","values":[0,5,10],"format":"d","title":"|Δ R|\u00a0 (mm)","titleX":-73}},
     "color":{"field":"series","type":"nominal","scale":{"domain":["d13","d23"],"range":["#3453AA","#C0489E"]},"legend":{"orient":"top-right","offset":9,"labelExpr":"datum.label == 'd13' ? 'xdr1 − xdr3' : 'xdr2 − xdr3'","symbolType":"M-1.65,0L1.65,0M-0.17,0A0.17,0.17,0,1,0,0.17,0A0.17,0.17,0,1,0,-0.17,0","symbolOffset":11.5,"labelOffset":19,"rowPadding":10}}
    }},
   {"mark":{"type":"circle","size":18,"opacity":1},
    "encoding":{
     "x":{"field":"t","type":"quantitative","scale":{"domain":[0,5],"nice":false},"axis":{"orient":"top","values":[0,1,2,3,4,5],"labels":false,"title":null}},
     "y":{"field":"dr","type":"quantitative","scale":{"domain":[0,10],"nice":false},"axis":{"orient":"right","values":[0,5,10],"labels":false,"title":null}},
     "color":{"field":"series","type":"nominal","scale":{"domain":["d13","d23"],"range":["#3453AA","#C0489E"]},"legend":{"orient":"top-right","offset":9,"labelExpr":"datum.label == 'd13' ? 'xdr1 − xdr3' : 'xdr2 − xdr3'","symbolType":"M-1.65,0L1.65,0M-0.17,0A0.17,0.17,0,1,0,0.17,0A0.17,0.17,0,1,0,-0.17,0","symbolOffset":11.5,"labelOffset":19,"rowPadding":10}},
     "order":{"field":"series"}
    }}
  ],
  "resolve":{"axis":{"x":"independent","y":"independent"}}
 }
],
"resolve":{"scale":{"color":"independent"},"legend":{"color":"independent"}}
}
